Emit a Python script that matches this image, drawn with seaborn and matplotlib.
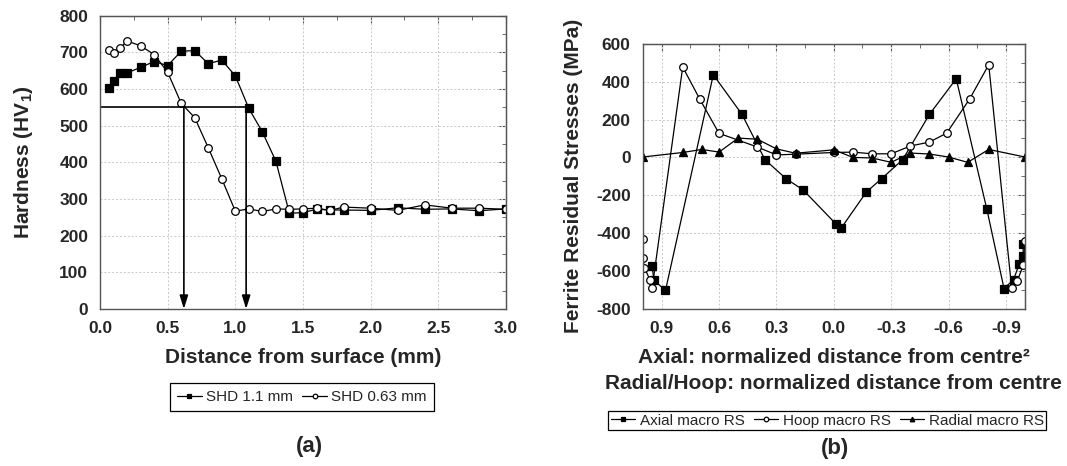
import numpy as np
import pandas as pd
import seaborn as sns
import matplotlib.pyplot as plt
from matplotlib.ticker import MultipleLocator, FixedLocator, FuncFormatter

# (a) hardness profiles
dist_mm = [0.07, 0.1, 0.15, 0.2, 0.3, 0.4, 0.5, 0.6, 0.7, 0.8, 0.9, 1.0, 1.1,
           1.2, 1.3, 1.4, 1.5, 1.6, 1.7, 1.8, 2.0, 2.2, 2.4, 2.6, 2.8, 3.0]
hv_shd_110 = [602, 622, 643, 644, 659, 675, 664, 703, 705, 669, 679, 636, 547,
              483, 403, 261, 263, 272, 270, 270, 269, 276, 272, 273, 268, 273]
hv_shd_063 = [706, 699, 712, 731, 718, 694, 646, 561, 522, 440, 355, 267, 273,
              266, 273, 272, 273, 275, 269, 278, 275, 269, 284, 275, 275, 272]
shd_limit_hv = 552
shd_depths = [0.62, 1.08]

# (b) ferrite residual stresses
axial_x = [0.95, 0.94, 0.88, 0.63, 0.48, 0.36, 0.25, 0.16, -0.01, -0.04, -0.17,
           -0.25, -0.36, -0.50, -0.64, -0.80, -0.89, -0.94, -0.97, -0.99, -0.99]
axial_rs = [-574, -649, -702, 436, 227, -12, -112, -172, -350, -371, -183,
            -112, -12, 227, 415, -273, -692, -645, -561, -522, -455]
hoop_x = [1.0, 1.0, 0.99, 0.96, 0.95, 0.79, 0.70, 0.60, 0.40, 0.30, 0.20, 0.0,
          -0.10, -0.20, -0.30, -0.40, -0.50, -0.59, -0.71, -0.81, -0.93, -0.96,
          -0.99, -1.0]
hoop_rs = [-433, -531, -582, -649, -691, 477, 306, 127, 55, 13, 17, 26,
           28, 19, 19, 60, 81, 128, 308, 489, -690, -651, -570, -440]
radial_x = [1.0, 0.79, 0.69, 0.60, 0.50, 0.40, 0.30, 0.20, 0.0, -0.10, -0.20,
            -0.30, -0.40, -0.50, -0.60, -0.70, -0.81, -1.0]
radial_rs = [2, 26, 42, 28, 102, 96, 45, 22, 40, 0, -3, -26, 23, 18, 2, -26, 42, 2]

sns.set_style("white")
plt.rcParams['font.family'] = ['Liberation Sans', 'DejaVu Sans']
plt.rcParams['axes.unicode_minus'] = False
plt.rcParams['mathtext.fontset'] = 'custom'
plt.rcParams['mathtext.rm'] = 'Liberation Sans:bold'
plt.rcParams['mathtext.bf'] = 'Liberation Sans:bold'

fig = plt.figure(figsize=(10.67, 4.66), dpi=100)
ax1 = fig.add_axes([0.0937, 0.3369, 0.3805, 0.6294])
ax2 = fig.add_axes([0.6022, 0.3369, 0.3585, 0.5693])

line_kw = dict(color='black', linewidth=0.9, markersize=5.5,
               markeredgecolor='black', markeredgewidth=0.9,
               estimator=None, sort=False)

def style_axes(ax):
    for s in ax.spines.values():
        s.set_color('#555555')
        s.set_linewidth(1.0)
    ax.grid(True, which='major', linestyle=(0, (2, 2)), color='#c8c8c8', linewidth=0.7)
    ax.tick_params(which='both', direction='out', color='#555555', width=1.0,
                   labelsize=12.5)
    ax.tick_params(which='major', length=5)
    ax.tick_params(which='minor', length=3)
    for lab in ax.get_xticklabels() + ax.get_yticklabels():
        lab.set_fontweight('bold')
    # mirrored ticks on top / right, pointing inward
    top = ax.secondary_xaxis('top')
    right = ax.secondary_yaxis('right')
    top.xaxis.set_major_locator(ax.xaxis.get_major_locator())
    top.xaxis.set_minor_locator(ax.xaxis.get_minor_locator())
    right.yaxis.set_major_locator(ax.yaxis.get_major_locator())
    right.yaxis.set_minor_locator(ax.yaxis.get_minor_locator())
    for sec in (top, right):
        sec.tick_params(which='both', direction='in', color='#555555',
                        labeltop=False, labelright=False)
        sec.tick_params(which='major', length=5)
        sec.tick_params(which='minor', length=3)
        for s in sec.spines.values():
            s.set_color('#555555')

# ---- (a)
sns.lineplot(x=dist_mm, y=hv_shd_110, marker='s', markerfacecolor='black',
             label='SHD 1.1 mm', ax=ax1, **line_kw)
sns.lineplot(x=dist_mm, y=hv_shd_063, marker='o', markerfacecolor='white',
             label='SHD 0.63 mm', ax=ax1, **line_kw)
ax1.plot([0, max(shd_depths)], [shd_limit_hv, shd_limit_hv], color='black', lw=1.2)
for d in shd_depths:
    ax1.annotate('', xy=(d, 0), xytext=(d, shd_limit_hv),
                 arrowprops=dict(arrowstyle='-|>,head_length=0.8,head_width=0.25',
                                 color='black', lw=1.2, shrinkA=0, shrinkB=0))
ax1.set_xlim(0, 3)
ax1.set_ylim(0, 800)
ax1.xaxis.set_major_locator(MultipleLocator(0.5))
ax1.xaxis.set_minor_locator(MultipleLocator(0.25))
ax1.yaxis.set_major_locator(MultipleLocator(100))
ax1.yaxis.set_minor_locator(MultipleLocator(50))
ax1.xaxis.set_major_formatter(FuncFormatter(lambda v, p: f"{v:.1f}"))
style_axes(ax1)
ax1.set_xlabel('Distance from surface (mm)', fontsize=15, fontweight='bold', labelpad=9)
ax1.set_ylabel(r'Hardness (HV$_1$)', fontsize=15, fontweight='bold')
ax1.yaxis.set_label_coords(-0.16, 0.5)
ax1.get_legend().remove()
h1, l1 = ax1.get_legend_handles_labels()

# ---- (b)
sns.lineplot(x=axial_x, y=axial_rs, marker='s', markerfacecolor='black',
             label='Axial macro RS', ax=ax2, **line_kw)
sns.lineplot(x=hoop_x, y=hoop_rs, marker='o', markerfacecolor='white',
             label='Hoop macro RS', ax=ax2, **line_kw)
sns.lineplot(x=radial_x, y=radial_rs, marker='^', markerfacecolor='black',
             label='Radial macro RS', ax=ax2, **line_kw)
ax2.set_xlim(1.0, -1.0)
ax2.set_ylim(-800, 600)
ax2.xaxis.set_major_locator(FixedLocator([0.9, 0.6, 0.3, 0.0, -0.3, -0.6, -0.9]))
ax2.xaxis.set_minor_locator(FixedLocator([0.75, 0.45, 0.15, -0.15, -0.45, -0.75]))
ax2.yaxis.set_major_locator(MultipleLocator(200))
ax2.yaxis.set_minor_locator(MultipleLocator(100))
ax2.xaxis.set_major_formatter(FuncFormatter(lambda v, p: f"{v:.1f}".replace('-0.0', '0.0')))
style_axes(ax2)
ax2.set_xlabel('Axial: normalized distance from centre\u00b2\n'
               'Radial/Hoop: normalized distance from centre',
               fontsize=15, fontweight='bold', linespacing=1.45, labelpad=9)
ax2.set_ylabel('Ferrite Residual Stresses (MPa)', fontsize=15, fontweight='bold')
ax2.yaxis.set_label_coords(-0.155, 0.5)
ax2.get_legend().remove()
h2, l2 = ax2.get_legend_handles_labels()

leg_kw = dict(ncol=3, fontsize=11, frameon=True, fancybox=False, framealpha=1,
              edgecolor='black', handlelength=1.6, handletextpad=0.3,
              columnspacing=0.6, borderaxespad=0, markerscale=0.6)
lg1 = fig.legend(h1, l1, loc='upper center', bbox_to_anchor=(0.283, 0.178),
                 borderpad=0.45, **leg_kw)
lg2 = fig.legend(h2, l2, loc='upper center', bbox_to_anchor=(0.7755, 0.117),
                 borderpad=0.15, **leg_kw)
for lg in (lg1, lg2):
    lg.get_frame().set_linewidth(0.9)

fig.text(0.29, 0.042, '(a)', ha='center', va='center', fontsize=16, fontweight='bold')
fig.text(0.7826, 0.038, '(b)', ha='center', va='center', fontsize=16, fontweight='bold')

fig.savefig('out.png', dpi=100)
